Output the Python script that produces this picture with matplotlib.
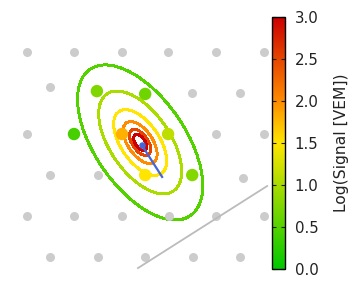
import numpy as np
import matplotlib
matplotlib.use('Agg')
from matplotlib import pyplot as plt
from matplotlib.colors import LinearSegmentedColormap, Normalize

# Станции решётки (км), положение ядра в (0, 0)
st_x = [-3.66, -2.16, -0.63, 0.84, 2.37, 3.90,
        -2.93, -1.43, 0.11, 1.61, 3.14,
        -3.66, -2.16, -0.63, 0.84, 2.37, 3.90,
        -2.93, -1.39, 0.11, 1.61, 3.23,
        -3.66, -2.16, -0.63, 0.86, 2.37, 3.90,
        -2.93, -1.39, 0.11, 1.64, 3.14]
st_y = [2.97, 2.97, 2.97, 2.97, 2.97, 2.97,
        1.85, 1.72, 1.63, 1.66, 1.66,
        0.35, 0.35, 0.35, 0.35, 0.35, 0.35,
        -0.96, -0.96, -0.96, -0.96, -1.05,
        -2.27, -2.27, -2.27, -2.27, -2.27, -2.27,
        -3.57, -3.57, -3.57, -3.57, -3.57]

# Сработавшие станции и их сигнал, log10(VEM)
hit_x = [-1.43, 0.11, -2.16, -0.63, 0.84, 0.11, 1.61]
hit_y = [1.72, 1.63, 0.35, 0.35, 0.35, -0.96, -0.96]
hit_s = [0.75, 0.65, 0.42, 1.80, 1.12, 1.50, 0.78]

# Уровни контуров и большие полуоси эллипсов (км)
levels = [0.5, 1.0, 1.5, 2.0, 2.5, 3.0]
major_r = [2.83, 1.88, 1.20, 0.77, 0.48, 0.31]
axis_ratio = 0.51
tilt_deg = -55.6
center = (-0.05, 0.08)

# Проекция оси ливня и линия сбоку
axis_x = [0.0, 0.65]
axis_y = [0.0, -1.02]
side_x = [-0.12, 4.0]
side_y = [-3.93, -1.31]

cmap = LinearSegmentedColormap.from_list(
    'ldf', [(0.0, '#00c800'), (0.5, '#ffe600'), (0.667, '#ff8c00'), (1.0, '#cc0000')])
norm = Normalize(0, 3)

fig = plt.figure(figsize=(3.6, 3.0), dpi=100)
ax = fig.add_axes([0, 0, 0.75, 1])
ax.set_xlim(-4.52, 4.09)
ax.set_ylim(-4.95, 4.63)
ax.axis('off')

# поле сигнала по эллиптическому расстоянию
gx, gy = np.meshgrid(np.arange(-4.5, 4.1, 0.1), np.arange(-4.9, 4.6, 0.1))
t = np.radians(tilt_deg)
u = (gx - center[0]) * np.cos(t) + (gy - center[1]) * np.sin(t)
v = -(gx - center[0]) * np.sin(t) + (gy - center[1]) * np.cos(t)
r = np.sqrt(u**2 + (v / axis_ratio)**2) + 1e-6
lr = np.log10([0.15] + major_r[::-1] + [6.0])
lv = [3.5] + levels[::-1] + [-0.3]
field = np.interp(np.log10(r), lr, lv)

ax.contour(gx, gy, field, levels=levels, cmap=cmap, norm=norm,
           linewidths=1.4, antialiased=False, zorder=2)

ax.scatter(st_x, st_y, s=42, color='#cccccc', linewidths=0, zorder=3)
ax.scatter(hit_x, hit_y, s=80, c=hit_s, cmap=cmap, norm=norm, linewidths=0, zorder=4)
ax.plot(side_x, side_y, color='#bbbbbb', lw=1.3, zorder=3)
ax.plot(axis_x, axis_y, color='#4466dd', lw=1.6, zorder=5)
ax.scatter([axis_x[0]], [axis_y[0]], s=22, color='#4466dd', linewidths=0, zorder=6)

cax = fig.add_axes([272 / 360, 31 / 300, 13 / 360, 252 / 300])
sm = plt.cm.ScalarMappable(norm=norm, cmap=cmap)
cb = fig.colorbar(sm, cax=cax, ticks=[0, 0.5, 1.0, 1.5, 2.0, 2.5, 3.0])
cb.ax.tick_params(direction='in', left=True, right=True, length=3, width=0.8,
                  pad=7, labelsize=10.8, colors='#222222', labelcolor='#222222')
cb.ax.set_yticklabels(['0.0', '0.5', '1.0', '1.5', '2.0', '2.5', '3.0'])
cb.set_label('Log(Signal [VEM])', fontsize=11.2, color='#222222', labelpad=11)
cb.outline.set_linewidth(1.0)

fig.savefig('out.png', dpi=100)
